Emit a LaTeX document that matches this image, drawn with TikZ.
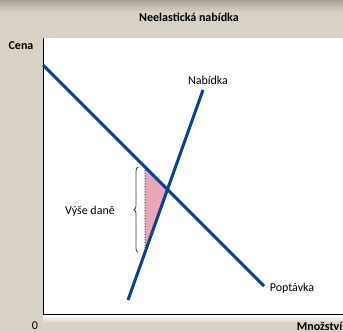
\documentclass[tikz,border=0pt]{standalone}
\usepackage{fontspec}
\setmainfont{Carlito}
\usetikzlibrary{calc,decorations.pathreplacing}
\definecolor{bgc}{HTML}{D8D2C6}
\definecolor{topc}{HTML}{A8A398}
\definecolor{curvec}{HTML}{0B3F98}
\definecolor{taxc}{HTML}{E8A6B8}
\tikzset{
  curve/.style={curvec, line width=3pt},
  lbl/.style={font=\fontsize{12}{14}\selectfont, inner sep=0pt},
  blbl/.style={font=\fontsize{12}{14}\selectfont\bfseries, inner sep=0pt},
  axisline/.style={black, line width=0.9pt}
}
\begin{document}
\begin{tikzpicture}[x=1pt,y=-1pt]
\useasboundingbox (0,0) rectangle (343,332);
\fill[bgc] (0,0) rectangle (343,332);
\shade[top color=topc, bottom color=bgc] (0,0) rectangle (343,12);
\fill[white] (43,38) rectangle (343,314);
\shade[top color=white, bottom color=bgc] (43,315) rectangle (343,323);
% axes
\coordinate (o) at (43,314);
\coordinate (ytop) at (43,38);
\coordinate (xend) at (343,314);
\draw[axisline] (ytop) -- (o) -- (xend);
% curves
\coordinate (d1) at (43,65);
\coordinate (d2) at (264,286);
\coordinate (s1) at (128,300);
\coordinate (s2) at (203,90);
\coordinate (ta) at (145,0);
\coordinate (tb) at (145,400);
\coordinate (tt) at (intersection of d1--d2 and ta--tb);
\coordinate (tbot) at (intersection of s1--s2 and ta--tb);
\coordinate (eq) at (intersection of d1--d2 and s1--s2);
\fill[taxc] (tt) -- (eq) -- (tbot) -- cycle;
\draw[black, densely dotted, line width=0.6pt] (tt) -- (tbot);
\draw[curve] (d1) -- (d2);
\draw[curve] (s1) -- (s2);
% brace
\draw[decorate, decoration={brace, amplitude=4pt}, black!75, line width=0.8pt]
  ($(tbot)+(-7,0)$) -- ($(tt)+(-7,0)$) node[midway] (br) {};
% labels
\node[blbl] (title) at (189,17) {Neelastická nabídka};
\node[blbl] (cena) at (21,46) {Cena};
\node[lbl] (nab) at (208,80) {Nabídka};
\node[lbl] (pop) at (292,288) {Poptávka};
\node[lbl] (vyse) at (90,211) {Výše daně};
\node[lbl] (zero) at (35,326) {0};
\node[blbl, anchor=east] (mnoz) at (342.5,326) {Množství};
\end{tikzpicture}
\end{document}
